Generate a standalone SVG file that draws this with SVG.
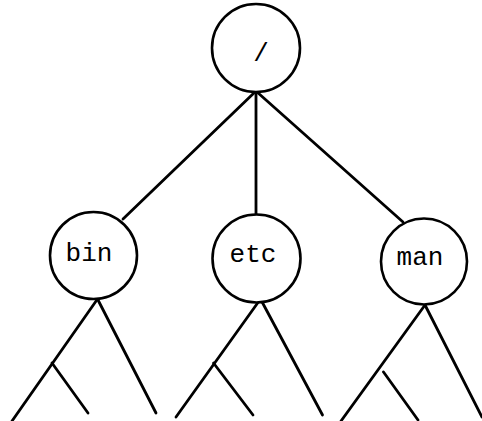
<svg xmlns="http://www.w3.org/2000/svg" width="482" height="421" viewBox="0 0 482 421">
  <style>
    .node circle { fill: #fff; stroke: #000; stroke-width: 2.6; }
    .node text { font-family: "Liberation Mono", "Courier New", monospace; font-size: 26px; text-anchor: middle; fill: #000; }
    .edges line { stroke: #000; stroke-width: 2.8; stroke-linecap: round; }
  </style>
  <rect width="482" height="421" fill="#fff"/>

  <!-- connectors -->
  <g id="edges" class="edges">
    <line x1="255" y1="92" x2="123" y2="219"/>
    <line x1="256" y1="92" x2="256" y2="215"/>
    <line x1="257" y1="92" x2="403" y2="222"/>

    <!-- bin subtree -->
    <line x1="97.5" y1="299" x2="12" y2="421"/>
    <line x1="97.5" y1="299" x2="156" y2="413"/>
    <line x1="52" y1="363" x2="88" y2="413"/>

    <!-- etc subtree -->
    <line x1="260.5" y1="299" x2="176" y2="417"/>
    <line x1="260.5" y1="299" x2="322.5" y2="415"/>
    <line x1="213.5" y1="363" x2="253" y2="415"/>

    <!-- man subtree -->
    <line x1="425" y1="305" x2="341" y2="421"/>
    <line x1="425" y1="305" x2="482" y2="417"/>
    <line x1="383.5" y1="372" x2="418" y2="420"/>
  </g>

  <g id="root" class="node">
    <circle cx="256" cy="48" r="44"/>
    <text x="261" y="61">/</text>
  </g>
  <g id="bin" class="node">
    <circle cx="93.5" cy="255.5" r="43.5"/>
    <text x="89" y="261">bin</text>
  </g>
  <g id="etc" class="node">
    <circle cx="256.5" cy="258.5" r="44"/>
    <text x="253" y="262">etc</text>
  </g>
  <g id="man" class="node">
    <circle cx="424" cy="261.5" r="43"/>
    <text x="420" y="265">man</text>
  </g>
</svg>
